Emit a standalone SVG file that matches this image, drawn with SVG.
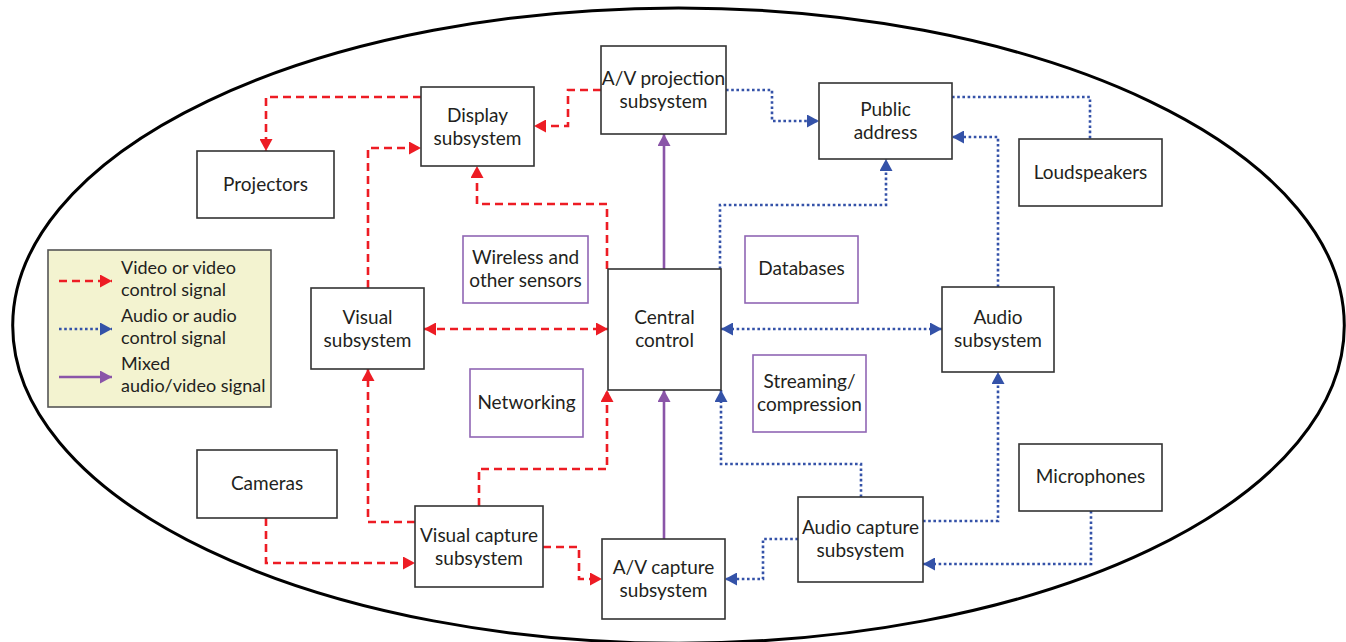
<svg xmlns="http://www.w3.org/2000/svg" width="1346" height="642" viewBox="0 0 1346 642">
<style>
.box{fill:#fff;stroke:#333;stroke-width:1.6}
.pbox{fill:#fff;stroke:#9066b4;stroke-width:1.6}
.t{font-family:Lato,"Open Sans","Liberation Sans",sans-serif;font-size:19px;fill:#231f20;text-anchor:middle}
.lt{font-family:Lato,"Open Sans","Liberation Sans",sans-serif;font-size:18px;fill:#231f20}
.red{fill:none;stroke:#ed1c24;stroke-width:2.6;stroke-dasharray:8,5}
.blue{fill:none;stroke:#3452a8;stroke-width:2.6;stroke-dasharray:2.6,2.6}
.pur{fill:none;stroke:#8a55a8;stroke-width:2.6}
</style>
<defs>
<marker id="ar" markerUnits="userSpaceOnUse" markerWidth="13" markerHeight="13" refX="12" refY="6.5" orient="auto-start-reverse"><path d="M0,0 L12,6.5 L0,13 z" fill="#ed1c24"/></marker>
<marker id="ab" markerUnits="userSpaceOnUse" markerWidth="13" markerHeight="13" refX="12" refY="6.5" orient="auto-start-reverse"><path d="M0,0 L12,6.5 L0,13 z" fill="#3452a8"/></marker>
<marker id="ap" markerUnits="userSpaceOnUse" markerWidth="13" markerHeight="13" refX="12" refY="6.5" orient="auto-start-reverse"><path d="M0,0 L12,6.5 L0,13 z" fill="#8a55a8"/></marker>
</defs>
<rect width="1346" height="642" fill="#fff"/>
<ellipse cx="678.5" cy="325.6" rx="665.8" ry="317.6" fill="none" stroke="#000" stroke-width="3"/>

<g id="connectors">
<path class="red" d="M421,97 H266 V151" marker-end="url(#ar)"/>
<path class="red" d="M601,90 H568 V126 H534" marker-end="url(#ar)"/>
<path class="red" d="M607,269 V204 H477 V166" marker-end="url(#ar)"/>
<path class="red" d="M368,288 V148 H421" marker-end="url(#ar)"/>
<path class="red" d="M424,329 H608" marker-start="url(#ar)" marker-end="url(#ar)"/>
<path class="red" d="M415,522 H368 V369" marker-end="url(#ar)"/>
<path class="red" d="M479,506 V469 H607 V390" marker-end="url(#ar)"/>
<path class="red" d="M266,518 V563 H415" marker-end="url(#ar)"/>
<path class="red" d="M543,547 H579 V579 H602" marker-end="url(#ar)"/>
<path class="blue" d="M726,90 H772 V121 H819" marker-end="url(#ab)"/>
<path class="blue" d="M720,269 V205 H886 V159" marker-end="url(#ab)"/>
<path class="blue" d="M952,97 H1090 V139"/>
<path class="blue" d="M998,287 V137 H952" marker-end="url(#ab)"/>
<path class="blue" d="M721,329 H942" marker-start="url(#ab)" marker-end="url(#ab)"/>
<path class="blue" d="M861,497 V464 H721 V390" marker-end="url(#ab)"/>
<path class="blue" d="M923,521 H998 V372" marker-end="url(#ab)"/>
<path class="blue" d="M1091,511 V564 H923" marker-end="url(#ab)"/>
<path class="blue" d="M798,539 H763 V579 H725" marker-end="url(#ab)"/>
<path class="pur" d="M664,269 V134" marker-end="url(#ap)"/>
<path class="pur" d="M664,539 V390" marker-end="url(#ap)"/>
</g>

<g id="display"><rect class="box" x="421" y="87" width="113" height="79"/><text class="t" x="477.5" y="121.5">Display</text><text class="t" x="477.5" y="144.5">subsystem</text></g>
<g id="projectors"><rect class="box" x="197" y="151" width="137" height="67"/><text class="t" x="265.5" y="190.5">Projectors</text></g>
<g id="avprojection"><rect class="box" x="601" y="46" width="125" height="88"/><text class="t" x="663.5" y="85">A/V projection</text><text class="t" x="663.5" y="108">subsystem</text></g>
<g id="publicaddress"><rect class="box" x="819" y="83" width="133" height="76"/><text class="t" x="885.5" y="116">Public</text><text class="t" x="885.5" y="139">address</text></g>
<g id="loudspeakers"><rect class="box" x="1019" y="139" width="143" height="67"/><text class="t" x="1090.5" y="178.5">Loudspeakers</text></g>
<g id="wireless"><rect class="pbox" x="463" y="236" width="125" height="67"/><text class="t" x="525.5" y="264">Wireless and</text><text class="t" x="525.5" y="287">other sensors</text></g>
<g id="visual"><rect class="box" x="311" y="288" width="113" height="81"/><text class="t" x="367.5" y="323.5">Visual</text><text class="t" x="367.5" y="346.5">subsystem</text></g>
<g id="central"><rect class="box" x="608" y="269" width="113" height="121"/><text class="t" x="664.5" y="324">Central</text><text class="t" x="664.5" y="347">control</text></g>
<g id="networking"><rect class="pbox" x="470" y="369" width="113" height="68"/><text class="t" x="526.5" y="409">Networking</text></g>
<g id="databases"><rect class="pbox" x="745" y="236" width="113" height="67"/><text class="t" x="801.5" y="275">Databases</text></g>
<g id="streaming"><rect class="pbox" x="753" y="355" width="113" height="77"/><text class="t" x="809.5" y="388">Streaming/</text><text class="t" x="809.5" y="411">compression</text></g>
<g id="audio"><rect class="box" x="942" y="287" width="112" height="85"/><text class="t" x="998" y="324">Audio</text><text class="t" x="998" y="347">subsystem</text></g>
<g id="cameras"><rect class="box" x="197" y="450" width="140" height="68"/><text class="t" x="267" y="490">Cameras</text></g>
<g id="visualcapture"><rect class="box" x="415" y="506" width="128" height="81"/><text class="t" x="479" y="541.5">Visual capture</text><text class="t" x="479" y="564.5">subsystem</text></g>
<g id="avcapture"><rect class="box" x="602" y="539" width="123" height="80"/><text class="t" x="663.5" y="574">A/V capture</text><text class="t" x="663.5" y="597">subsystem</text></g>
<g id="audiocapture"><rect class="box" x="798" y="497" width="125" height="85"/><text class="t" x="860.5" y="534">Audio capture</text><text class="t" x="860.5" y="557">subsystem</text></g>
<g id="microphones"><rect class="box" x="1019" y="444" width="143" height="67"/><text class="t" x="1090.5" y="483">Microphones</text></g>

<g id="legend">
<rect x="48" y="250" width="223" height="157" fill="#f3f3d0" stroke="#555" stroke-width="1.6"/>
<path class="red" d="M59,281 H112" marker-end="url(#ar)"/>
<path class="blue" d="M59,329 H112" marker-end="url(#ab)"/>
<path class="pur" d="M59,377 H112" marker-end="url(#ap)"/>
<text class="lt" x="121" y="274">Video or video</text>
<text class="lt" x="121" y="296">control signal</text>
<text class="lt" x="121" y="322">Audio or audio</text>
<text class="lt" x="121" y="344">control signal</text>
<text class="lt" x="121" y="370">Mixed</text>
<text class="lt" x="121" y="392">audio/video signal</text>
</g>
</svg>
